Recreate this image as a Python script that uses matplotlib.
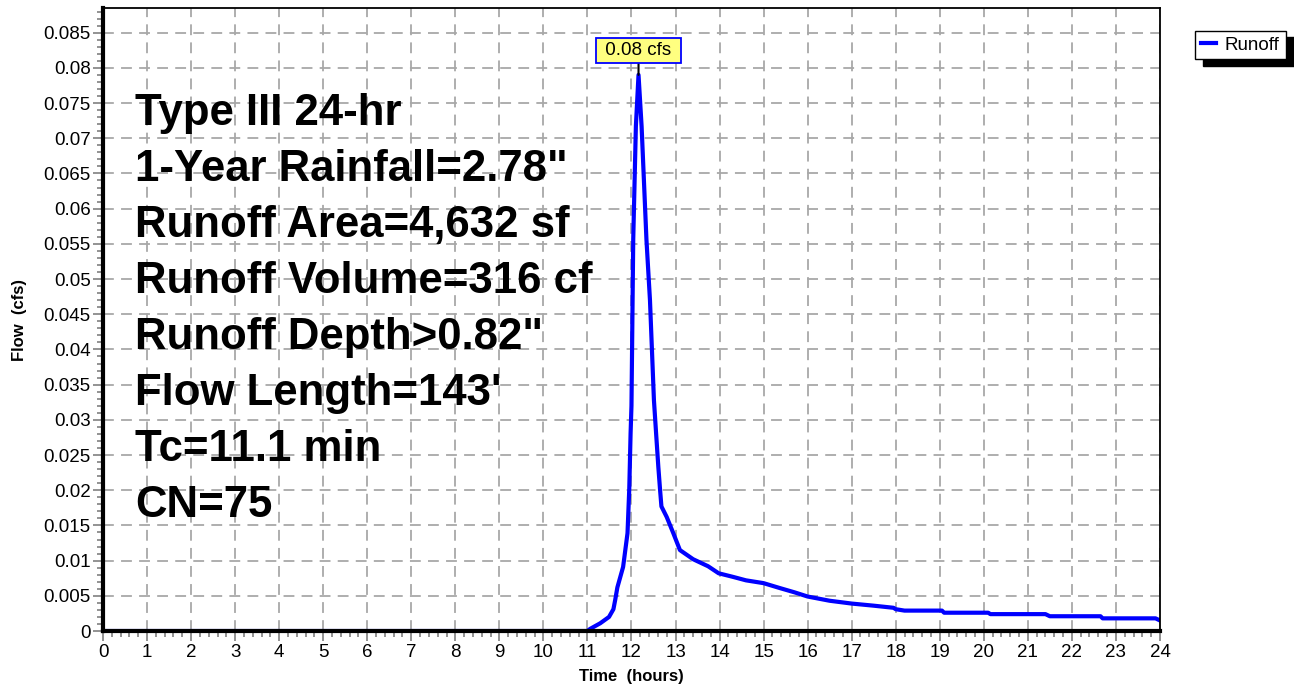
import numpy as np
import matplotlib.pyplot as plt
from matplotlib.ticker import MultipleLocator, FuncFormatter

plt.rcParams['font.family'] = ['Liberation Sans', 'DejaVu Sans']

# hydrograph (hours, cfs)
hours = [0.0, 11.0, 11.06, 11.29, 11.49, 11.59, 11.63, 11.68, 11.81, 11.91, 11.95,
         11.98, 12.0, 12.04, 12.1, 12.16, 12.23, 12.34, 12.42, 12.51, 12.56, 12.61,
         12.65, 12.68, 12.8, 12.95, 13.1, 13.4, 13.74, 13.98, 14.3, 14.6, 15.0,
         15.37, 15.7, 16.0, 16.5, 17.0, 17.5, 17.95, 18.0, 18.2, 19.05, 19.1,
         20.1, 20.15, 21.4, 21.5, 22.65, 22.7, 23.9, 24.0]
flow = [0.0, 0.0, 0.0003, 0.0011, 0.002, 0.0031, 0.0044, 0.0062, 0.0091, 0.0139, 0.0202,
        0.0281, 0.032, 0.0556, 0.0717, 0.079, 0.0717, 0.0556, 0.047, 0.0328, 0.028, 0.0233,
        0.020, 0.0177, 0.0162, 0.0139, 0.0115, 0.0102, 0.0092, 0.0082, 0.0077, 0.0072, 0.0068,
        0.0061, 0.0055, 0.0049, 0.0043, 0.0039, 0.0036, 0.0033, 0.0031, 0.0029, 0.0029, 0.0026,
        0.0026, 0.0024, 0.0024, 0.0021, 0.0021, 0.0018, 0.0018, 0.0015]

peak_time = 12.16
peak_flow = 0.079
peak_label = "0.08 cfs"

info_lines = ['Type III 24-hr', '1-Year Rainfall=2.78"', 'Runoff Area=4,632 sf',
              'Runoff Volume=316 cf', 'Runoff Depth>0.82"', "Flow Length=143'",
              'Tc=11.1 min', 'CN=75']

fig = plt.figure(figsize=(12.94, 6.85), dpi=100)
ax = fig.add_axes([0.0796, 0.0788, 0.8168, 0.9095])

ax.plot(hours, flow, color='#0000ff', lw=3, label='Runoff', zorder=2)

ax.set_xlim(0, 24)
ax.set_ylim(0, 0.0885)
ax.xaxis.set_major_locator(MultipleLocator(1))
ax.xaxis.set_minor_locator(MultipleLocator(0.2))
ax.yaxis.set_major_locator(MultipleLocator(0.005))
ax.yaxis.set_minor_locator(MultipleLocator(0.001))
ax.yaxis.set_major_formatter(FuncFormatter(lambda v, p: ('%.3f' % v).rstrip('0').rstrip('.') if v else '0'))

ax.tick_params(which='major', length=7, width=1.2, color='#808080', labelsize=13.5, pad=2)
ax.tick_params(which='minor', length=4, width=1.2, color='#808080')

ax.grid(which='major', color='#a8a8a8', linestyle=(0, (6, 4)), linewidth=1.3)
ax.set_axisbelow(True)

for s in ['left', 'bottom']:
    ax.spines[s].set_linewidth(3)
for s in ['top', 'right']:
    ax.spines[s].set_linewidth(1.3)

ax.set_xlabel('Time  (hours)', fontsize=12, fontweight='bold', labelpad=6)
ax.set_ylabel('Flow  (cfs)', fontsize=12, fontweight='bold', labelpad=12)

for i, line in enumerate(info_lines):
    ax.text(135 / 1294, 1 - (125 + i * 55.95) / 685, line, transform=fig.transFigure,
            fontsize=31.5, fontweight='bold', va='baseline', ha='left')

ax.annotate(' ' + peak_label + ' ', xy=(peak_time, peak_flow), xytext=(0, 17.5), textcoords='offset points',
            ha='center', va='center', fontsize=13.5,
            bbox=dict(boxstyle='square,pad=0.22', fc='#ffff80', ec='#0000ff', lw=1.3),
            arrowprops=dict(arrowstyle='-', color='black', lw=1.5, shrinkA=0, shrinkB=0))

leg = ax.legend(loc='upper left', bbox_to_anchor=(1195 / 1294, 1 - 31 / 685),
                bbox_transform=fig.transFigure, fontsize=13.5, frameon=True, fancybox=False,
                handlelength=0.8, handletextpad=0.5, borderpad=0.3, borderaxespad=0,
                shadow={'color': 'black', 'alpha': 1, 'ox': 6, 'oy': -4.5})
leg.get_frame().set_edgecolor('black')
leg.get_frame().set_linewidth(1.0)

fig.savefig('out.png', dpi=100)
